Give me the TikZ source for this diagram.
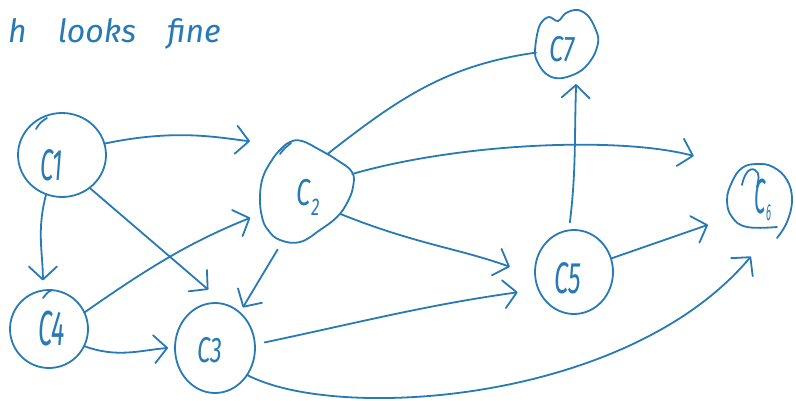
\documentclass[tikz,border=0pt]{standalone}
\usepackage{fontspec}
\setmainfont{Fira Sans}
\usepackage{graphicx}
\usetikzlibrary{arrows.meta,shapes.geometric}
\definecolor{ink}{RGB}{40,122,180}

\begin{document}
\begin{tikzpicture}[x=1pt,y=1pt,
  ring/.style={ellipse, draw=ink, line width=1.8pt, inner sep=0pt, outer sep=0pt},
  hidden/.style={ellipse, inner sep=0pt, outer sep=0pt},
  outline/.style={draw=ink, line width=1.8pt, line cap=round, line join=round},
  link/.style={draw=ink, line width=1.8pt, line cap=round},
  edge/.style={link, -{Straight Barb[length=13pt,width=28pt,round]}},
  lbl/.style={text=ink, inner sep=0pt, font=\fontsize{34}{34}\selectfont\itshape},
]
\fill[white] (0,0) rectangle (796,400);
\useasboundingbox (0,0) rectangle (796,400);

% heading
\node[anchor=base west, text=ink, inner sep=0pt,
      font=\fontsize{32}{32}\selectfont\itshape] (title) at (8,357)
     {\spaceskip=31pt\relax h looks fine};

% vertices
\node[ring, minimum width=88pt, minimum height=84pt] (c1) at (62,245) {};
\node[ring, minimum width=78pt, minimum height=78pt] (c4) at (49,71) {};
\node[ring, minimum width=80pt, minimum height=90pt] (c3) at (215,52) {};
\node[ring, minimum width=78pt, minimum height=84pt] (c5) at (574,128) {};
\node[hidden, minimum width=80pt, minimum height=96pt] (c2) at (304,207) {};
\node[hidden, minimum width=62pt, minimum height=68pt] (c7) at (566,356) {};
\node[hidden, minimum width=66pt, minimum height=74pt] (c6) at (760,200) {};

% freehand outlines of c2, c7 and c6
\draw[outline] plot[smooth cycle, tension=0.7] coordinates {
  (290,258) (302,259) (320,250) (337,240) (352,228) (353,213) (347,197)
  (337,183) (320,170) (300,158) (280,160) (268,170) (262,183) (260,203)
  (263,223) (272,240) (280,250)};
\draw[outline] plot[smooth cycle, tension=0.6] coordinates {
  (535,347) (537,365) (541,377) (549,383) (558,379) (566,387) (578,390)
  (589,383) (597,367) (598,357) (593,343) (582,330) (567,323) (555,322)
  (545,327) (538,337)};
\draw[outline] plot[smooth, tension=0.7] coordinates {
  (777,162) (787,178) (792,200) (787,220) (773,233) (757,236) (742,232)
  (732,218) (727,200) (732,183) (747,173) (777,173)};

% pen-start ticks on the outlines
\draw[outline] (36,271) to[out=60,in=210] (47,282);
\draw[outline] (43,102) to[out=50,in=200] (52,110);
\draw[outline] (280,246) to[out=55,in=220] (291,257);
\draw[outline] (742,215) to[out=80,in=150] (755,230) to[out=-30,in=80] (757,213);

% vertex labels
\node[lbl] (l1) at (51.5,235) {\scalebox{0.7}[1.3]{C1}};
\node[lbl] (l4) at (51.5,71) {\scalebox{0.75}[1.45]{C4}};
\node[lbl] (l3) at (209.5,50) {\scalebox{0.7}[1.05]{C3}};
\node[lbl] (l5) at (567.5,121.5) {\scalebox{0.75}[1.3]{C5}};
\node[lbl] (l7) at (562.5,350.5) {\scalebox{0.75}[1.05]{C7}};
\node[lbl] (l2) at (308,203) {\scalebox{0.75}[1.1]{C\kern1pt\raisebox{-9pt}{\fontsize{22}{22}\selectfont 2}}};
\node[lbl] (l6) at (763,200) {\scalebox{0.6}[1.45]{C\raisebox{-5pt}{\fontsize{16}{16}\selectfont 6}}};

% dependencies
\draw[edge, shorten >=46pt] (c1.15) to[out=12,in=174] (c2.100);
\draw[edge, shorten >=10pt] (c1.248) to[out=255,in=90] (c4.99);
\draw[edge, shorten >=23pt] (c1.-50) -- (c3.76);
\draw[edge, shorten >=18pt] (c4.25) to[out=35,in=202] (c2.206);
\draw[edge, shorten >=7pt] (c4.-26) to[out=-20,in=185] (c3.179);
\draw[edge, shorten <=16pt, shorten >=6pt] (c2.247) -- (c3.55);
\draw[link] (c2.59) to[out=38,in=188] (c7.196);
\draw[edge, shorten <=11pt, shorten >=50pt] (c2.23) to[out=16,in=165,looseness=0.8] (c6.120);
\draw[edge, shorten >=27pt] (c2.-30) to[out=-22,in=160] (c5.186);
\draw[edge, shorten <=8pt, shorten >=8pt] (c5.97) to[out=83,in=268] (c7.-72);
\draw[edge, shorten >=24pt] (c5.20) -- (c6.210);
\draw[edge, shorten <=10pt, shorten >=21pt] (c3.5) to[out=12,in=188] (c5.206);
\draw[edge, shorten >=27pt] (c3.-40) to[out=-28,in=230,out distance=100pt,in distance=220pt] (c6.-77);
\end{tikzpicture}
\end{document}
